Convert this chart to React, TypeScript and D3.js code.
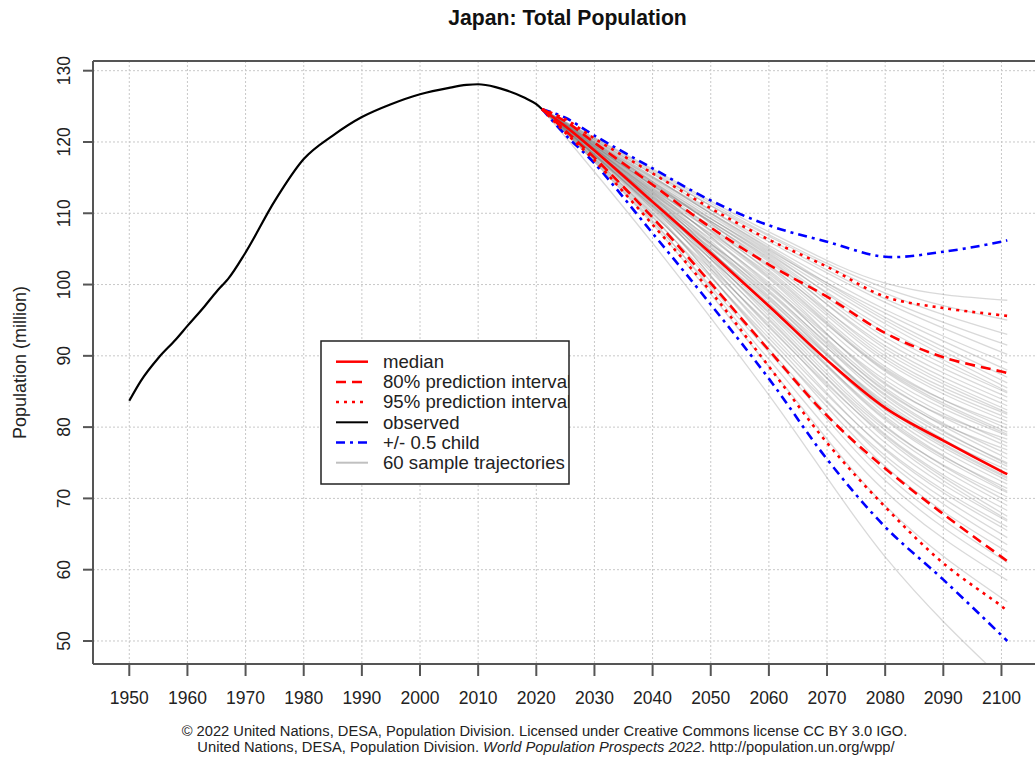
import React from 'react'
import { scaleLinear, line, curveMonotoneX, curveCatmullRom, range } from 'd3'

const width = 1035
const height = 758
const plot = { left: 93, right: 1042.4, top: 61, bottom: 664 }

// observed population (million)
const obsYears = [1950, 1952, 1955, 1958, 1960, 1963, 1965, 1966, 1967, 1970, 1975, 1980, 1985, 1990, 1995, 2000, 2005, 2008, 2010, 2013, 2015, 2018, 2020, 2021]
const obsValues = [83.7, 86.5, 89.7, 92.3, 94.2, 97.0, 99.0, 99.9, 100.8, 104.5, 111.7, 117.6, 120.9, 123.5, 125.3, 126.7, 127.6, 128.0, 128.1, 127.7, 127.2, 126.2, 125.3, 124.6]

// projections
const projYears = [2021, 2025, 2030, 2040, 2050, 2060, 2070, 2080, 2090, 2100, 2101]
const median = [124.6, 122.2, 118.8, 111.6, 104.4, 97.0, 89.4, 82.7, 78.1, 73.8, 73.4]
const upper80 = [124.6, 122.9, 119.9, 114.0, 108.0, 102.8, 98.3, 93.2, 89.8, 87.8, 87.6]
const lower80 = [124.6, 121.6, 117.8, 109.4, 100.2, 90.8, 81.6, 74.2, 67.8, 61.8, 61.2]
const upper95 = [124.6, 123.2, 120.5, 115.6, 110.7, 106.3, 102.5, 98.3, 96.7, 95.7, 95.6]
const lower95 = [124.6, 121.3, 117.4, 108.4, 99.0, 88.5, 77.8, 68.8, 60.9, 54.9, 54.2]
const upperChild = [124.6, 123.4, 120.9, 116.3, 111.8, 108.3, 106.0, 103.9, 104.6, 106.0, 106.2]
const lowerChild = [124.6, 121.0, 117.0, 107.2, 97.2, 86.8, 75.5, 66.0, 58.6, 50.8, 50.0]

// 60 sample trajectories, values at trajYears
const trajYears = [2021, 2040, 2060, 2080, 2101]
const trajectories = [
  [124.6, 105.8, 84.5, 61.8, 44.0],
  [124.6, 108.5, 88.5, 69.0, 55.5],
  [124.6, 109.0, 89.5, 71.0, 58.5],
  [124.6, 108.8, 90.5, 72.5, 60.0],
  [124.6, 109.6, 91.0, 73.5, 61.0],
  [124.6, 110.2, 92.0, 74.5, 62.5],
  [124.6, 109.4, 92.5, 75.5, 63.5],
  [124.6, 110.5, 91.8, 76.0, 64.5],
  [124.6, 110.0, 93.5, 76.8, 65.5],
  [124.6, 111.2, 93.0, 77.0, 66.0],
  [124.6, 110.8, 94.2, 77.8, 66.8],
  [124.6, 109.9, 94.5, 78.5, 67.0],
  [124.6, 111.5, 94.0, 78.8, 67.5],
  [124.6, 110.6, 95.2, 79.0, 68.3],
  [124.6, 111.8, 95.0, 79.6, 69.0],
  [124.6, 111.0, 96.0, 80.2, 69.6],
  [124.6, 112.0, 95.6, 80.0, 70.2],
  [124.6, 111.3, 96.5, 81.0, 70.8],
  [124.6, 110.9, 96.2, 81.5, 71.0],
  [124.6, 112.3, 97.0, 81.2, 71.4],
  [124.6, 111.6, 97.4, 82.0, 72.0],
  [124.6, 112.5, 96.8, 82.4, 72.5],
  [124.6, 111.1, 97.8, 82.8, 72.8],
  [124.6, 112.1, 98.0, 83.0, 73.0],
  [124.6, 111.9, 97.2, 83.5, 73.5],
  [124.6, 112.8, 98.4, 83.2, 74.0],
  [124.6, 111.4, 98.8, 84.0, 74.5],
  [124.6, 112.6, 98.2, 84.6, 74.8],
  [124.6, 112.2, 99.2, 84.4, 75.0],
  [124.6, 113.0, 99.0, 85.2, 75.6],
  [124.6, 111.7, 99.6, 85.5, 76.2],
  [124.6, 113.2, 100.0, 85.0, 76.8],
  [124.6, 112.4, 100.3, 86.2, 77.3],
  [124.6, 113.4, 99.8, 86.6, 77.8],
  [124.6, 112.9, 100.8, 86.0, 78.3],
  [124.6, 113.6, 101.0, 87.2, 78.8],
  [124.6, 112.7, 101.5, 87.8, 79.0],
  [124.6, 113.8, 101.2, 88.0, 79.3],
  [124.6, 113.1, 102.0, 88.5, 79.8],
  [124.6, 114.0, 101.8, 88.2, 80.3],
  [124.6, 113.5, 102.4, 89.2, 80.8],
  [124.6, 114.2, 102.8, 89.6, 81.3],
  [124.6, 113.3, 103.2, 90.0, 81.8],
  [124.6, 114.4, 102.6, 90.5, 82.0],
  [124.6, 113.9, 103.6, 91.0, 82.4],
  [124.6, 114.2, 103.4, 91.4, 83.0],
  [124.6, 113.9, 103.8, 92.0, 83.6],
  [124.6, 114.4, 104.0, 92.6, 84.2],
  [124.6, 114.0, 104.4, 93.2, 84.8],
  [124.6, 114.5, 104.2, 93.8, 85.0],
  [124.6, 114.7, 104.6, 94.5, 85.5],
  [124.6, 115.1, 105.0, 95.0, 86.2],
  [124.6, 114.9, 105.2, 95.4, 87.0],
  [124.6, 115.2, 104.8, 96.0, 88.0],
  [124.6, 115.5, 105.5, 96.5, 89.0],
  [124.6, 115.0, 106.0, 97.5, 90.2],
  [124.6, 115.8, 106.4, 98.0, 91.5],
  [124.6, 115.6, 106.8, 98.8, 93.0],
  [124.6, 116.0, 107.0, 99.5, 95.0],
  [124.6, 116.2, 107.4, 100.2, 97.8],
]

const xTicks = range(1950, 2101, 10)
const yTicks = [50, 60, 70, 80, 90, 100, 110, 120, 130]

const legendItems = [
  { label: 'median', color: 'red', dash: undefined, w: 2.5 },
  { label: '80% prediction interval', color: 'red', dash: '10,6', w: 2.5 },
  { label: '95% prediction interval', color: 'red', dash: '3,5', w: 2.5 },
  { label: 'observed', color: 'black', dash: undefined, w: 2 },
  { label: '+/- 0.5 child', color: 'blue', dash: '9,5,3,5', w: 2.5 },
  { label: '60 sample trajectories', color: '#c0c0c0', dash: undefined, w: 2 },
]

const font = "'Liberation Sans', Arial, Helvetica, sans-serif"

export default function App() {
  const x = scaleLinear().domain([1943.76, 2107.04]).range([plot.left, plot.right])
  const y = scaleLinear().domain([46.77, 131.36]).range([plot.bottom, plot.top])

  const path = (years: number[], vals: number[], curve: any = curveMonotoneX) =>
    line<number>()
      .x((_, i) => x(years[i]))
      .y(d => y(d))
      .curve(curve)(vals) || ''

  const projSeries = [
    { vals: upperChild, color: 'blue', dash: '9,5,3,5' },
    { vals: lowerChild, color: 'blue', dash: '9,5,3,5' },
    { vals: upper95, color: 'red', dash: '3,5' },
    { vals: lower95, color: 'red', dash: '3,5' },
    { vals: upper80, color: 'red', dash: '10,6' },
    { vals: lower80, color: 'red', dash: '10,6' },
    { vals: median, color: 'red', dash: undefined },
  ]

  const lg = { x: 321, y: 341, w: 248, h: 143, row0: 361.7, step: 20.2 }

  return (
    <svg width={width} height={height} style={{ position: 'absolute', left: 0, top: 0, background: 'white' }} fontFamily={font}>
      <defs>
        <clipPath id="plotClip">
          <rect x={plot.left} y={plot.top} width={plot.right - plot.left} height={plot.bottom - plot.top} />
        </clipPath>
        <clipPath id="legendClip">
          <rect x={lg.x} y={lg.y} width={lg.w} height={lg.h} />
        </clipPath>
      </defs>

      <text x={567.5} y={25} textAnchor="middle" fontWeight="bold" fontSize={21.2} fill="#111">Japan: Total Population</text>

      {/* grid */}
      <g stroke="#c8c8c8" strokeWidth={1} strokeDasharray="2,2">
        {xTicks.map(t => (
          <line key={'gx' + t} x1={x(t)} x2={x(t)} y1={plot.top} y2={plot.bottom} />
        ))}
        {yTicks.map(t => (
          <line key={'gy' + t} x1={plot.left} x2={plot.right} y1={y(t)} y2={y(t)} />
        ))}
      </g>

      <g clipPath="url(#plotClip)" fill="none">
        {trajectories.map((tr, i) => (
          <path key={'tr' + i} d={path(trajYears, tr)} stroke="#808080" strokeOpacity={0.3} strokeWidth={1.3} />
        ))}
        <path d={path(obsYears, obsValues)} stroke="black" strokeWidth={2.2} />
        {projSeries.map((s, i) => (
          <path key={'p' + i} d={path(projYears, s.vals, curveCatmullRom.alpha(0.5))} stroke={s.color} strokeWidth={2.6} strokeDasharray={s.dash} />
        ))}
      </g>

      {/* axes box */}
      <g stroke="#555" strokeWidth={2} fill="none">
        <line x1={plot.left} x2={plot.right} y1={plot.top} y2={plot.top} />
        <line x1={plot.left} x2={plot.right} y1={plot.bottom} y2={plot.bottom} />
        <line x1={plot.left} x2={plot.left} y1={plot.top} y2={plot.bottom} />
        <line x1={plot.right} x2={plot.right} y1={plot.top} y2={plot.bottom} />
        {xTicks.map(t => (
          <line key={'tx' + t} x1={x(t)} x2={x(t)} y1={plot.bottom} y2={plot.bottom + 12} />
        ))}
        {yTicks.map(t => (
          <line key={'ty' + t} x1={plot.left - 10} x2={plot.left} y1={y(t)} y2={y(t)} />
        ))}
      </g>

      {xTicks.map(t => (
        <text key={'lx' + t} x={x(t)} y={704} textAnchor="middle" fontSize={17.5} fill="#222">{t}</text>
      ))}
      {yTicks.map(t => (
        <text key={'ly' + t} transform={`translate(69.5,${y(t)}) rotate(-90)`} textAnchor="middle" fontSize={17.5} fill="#222">{t}</text>
      ))}
      <text transform={`translate(26,${(plot.top + plot.bottom) / 2}) rotate(-90)`} textAnchor="middle" fontSize={18} fill="#222">Population (million)</text>

      {/* legend */}
      <rect x={lg.x} y={lg.y} width={lg.w} height={lg.h} fill="white" stroke="#222" strokeWidth={1.5} />
      <g clipPath="url(#legendClip)">
        {legendItems.map((it, i) => {
          const cy = lg.row0 + i * lg.step
          return (
            <g key={it.label}>
              <line x1={336} x2={368} y1={cy} y2={cy} stroke={it.color} strokeWidth={it.w} strokeDasharray={it.dash} />
              <text x={383} y={cy + 6.3} fontSize={18.6} fill="#222">{it.label}</text>
            </g>
          )
        })}
      </g>

      <text x={544.5} y={736} textAnchor="middle" fontSize={14.7} fill="#222">© 2022 United Nations, DESA, Population Division. Licensed under Creative Commons license CC BY 3.0 IGO.</text>
      <text x={546} y={752} textAnchor="middle" fontSize={14.7} fill="#222">
        United Nations, DESA, Population Division. <tspan fontStyle="italic">World Population Prospects 2022</tspan>. http://population.un.org/wpp/
      </text>
    </svg>
  )
}
